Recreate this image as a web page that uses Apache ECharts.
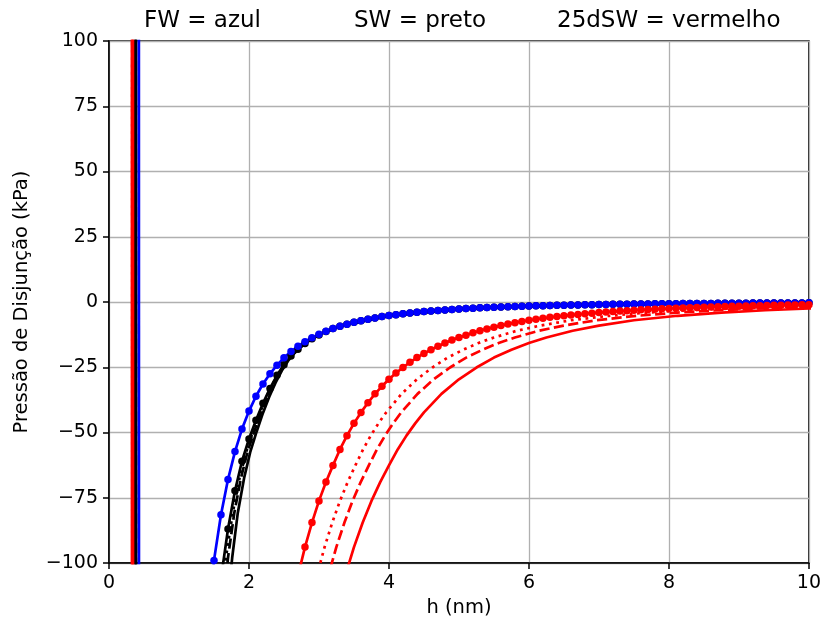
<!DOCTYPE html>
<html style="height: 100%">
<head>
    <meta charset="utf-8">
    <title>Pressão de Disjunção</title>
    <script type="text/javascript" src="https://cdn.jsdelivr.net/npm/echarts@6/dist/echarts.min.js"></script>
</head>
<body style="height: 100%; margin: 0">
<div id="container" style="width: 824px; height: 624px"></div>
<script type="text/javascript">
    // h (nm) grid used by the marker curves
    var hGrid = [1.4,
        1.5, 1.6, 1.7, 1.8, 1.9, 2.0, 2.1, 2.2, 2.3, 2.4,
        2.5, 2.6, 2.7, 2.8, 2.9, 3.0, 3.1, 3.2, 3.3, 3.4,
        3.5, 3.6, 3.7, 3.8, 3.9, 4.0, 4.1, 4.2, 4.3, 4.4,
        4.5, 4.6, 4.7, 4.8, 4.9, 5.0, 5.1, 5.2, 5.3, 5.4,
        5.5, 5.6, 5.7, 5.8, 5.9, 6.0, 6.1, 6.2, 6.3, 6.4,
        6.5, 6.6, 6.7, 6.8, 6.9, 7.0, 7.1, 7.2, 7.3, 7.4,
        7.5, 7.6, 7.7, 7.8, 7.9, 8.0, 8.1, 8.2, 8.3, 8.4,
        8.5, 8.6, 8.7, 8.8, 8.9, 9.0, 9.1, 9.2, 9.3, 9.4,
        9.5, 9.6, 9.7, 9.8, 9.9, 10.0];

    // FW (azul), pontos - starts at h = 1.4
    var blueP = [-121.7,
        -99.0, -81.5, -68.0, -57.3, -48.7, -41.8, -36.1, -31.4, -27.5, -24.2,
        -21.4, -19.0, -17.0, -15.2, -13.7, -12.4, -11.2, -10.2, -9.3, -8.5,
        -7.8, -7.2, -6.6, -6.1, -5.6, -5.2, -4.85, -4.51, -4.2, -3.92,
        -3.67, -3.43, -3.22, -3.02, -2.84, -2.67, -2.52, -2.38, -2.24, -2.12,
        -2.01, -1.9, -1.8, -1.71, -1.63, -1.55, -1.47, -1.4, -1.34, -1.27,
        -1.22, -1.16, -1.11, -1.06, -1.02, -0.97, -0.93, -0.89, -0.86, -0.82,
        -0.79, -0.76, -0.73, -0.7, -0.68, -0.65, -0.63, -0.61, -0.58, -0.56,
        -0.54, -0.53, -0.51, -0.49, -0.47, -0.46, -0.44, -0.43, -0.42, -0.4,
        -0.39, -0.38, -0.37, -0.35, -0.34, -0.33];

    // SW (preto), pontos - starts at h = 1.6 (same as FW from 3.6 on)
    var blackNearP = [-106, -87.0, -72.3, -61.0, -52.5, -45.3, -38.8, -33.1, -28.1, -24.0,
        -20.7, -18.1, -15.9, -14.1, -12.6, -11.3, -10.2, -9.3, -8.5, -7.8];

    // SW (preto), linhas
    var blackVarP = [-125, -98.0, -80.8, -67.5, -57.3, -49.6, -42.5, -36.3, -30.9, -26.3, -22.5,
        -19.5, -17.1, -15.1, -12.0, -8.95, -5.22, -2.67, -1.55, -0.97, -0.65, -0.46, -0.33];
    var blackDotH = [1.57, 1.67, 1.768, 1.865, 1.962, 2.058, 2.155, 2.253, 2.35, 2.448, 2.546,
        2.644, 2.742, 2.84, 3.04, 3.34, 4, 5, 6, 7, 8, 9, 10];
    var blackDashH = [1.60, 1.70, 1.79, 1.885, 1.98, 2.075, 2.17, 2.265, 2.36, 2.455, 2.55,
        2.647, 2.744, 2.842, 3.04, 3.34, 4, 5, 6, 7, 8, 9, 10];
    var blackSolidH = [1.66, 1.76, 1.84, 1.93, 2.02, 2.11, 2.20, 2.29, 2.38, 2.47, 2.56,
        2.653, 2.748, 2.844, 3.04, 3.34, 4, 5, 6, 7, 8, 9, 10];

    // 25dSW (vermelho), pontos - starts at h = 2.6
    var redP = [-117.8, -104.9, -93.9, -84.5, -76.2, -69.0, -62.6, -56.5, -51.2, -46.5,
        -42.3, -38.6, -35.2, -32.3, -29.6, -27.2, -25.1, -23.1, -21.3, -19.7,
        -18.3, -16.95, -15.7, -14.6, -13.6, -12.7, -11.8, -11.0, -10.3, -9.65,
        -9.03, -8.46, -7.93, -7.44, -6.99, -6.6, -6.24, -5.89, -5.58, -5.28,
        -5.01, -4.75, -4.5, -4.28, -4.06, -3.86, -3.67, -3.49, -3.32, -3.16,
        -3.01, -2.87, -2.74, -2.61, -2.49, -2.38, -2.27, -2.17, -2.08, -1.98,
        -1.9, -1.82, -1.74, -1.66, -1.59, -1.52, -1.46, -1.4, -1.34, -1.29,
        -1.23, -1.18, -1.13, -1.09, -1.05];

    // 25dSW (vermelho), linhas
    var redVarP = [-104.9, -93.9, -84.5, -76.2, -69.0, -62.6, -56.5, -51.2, -46.5, -42.3,
        -35.2, -29.6, -25.1, -21.3, -18.3, -15.7, -13.6, -11.0, -9.03, -6.99,
        -5.28, -4.06, -3.16, -2.49, -1.98, -1.59, -1.29];
    var redDotH = [2.97, 3.08, 3.19, 3.30, 3.41, 3.52, 3.63, 3.74, 3.85, 3.96,
        4.18, 4.40, 4.62, 4.84, 5.06, 5.28, 5.50, 5.83, 6.16, 6.60,
        7.15, 7.70, 8.25, 8.80, 9.35, 9.90, 10.45];
    var redDashH = [3.132, 3.248, 3.364, 3.48, 3.596, 3.712, 3.828, 3.944, 4.06, 4.176,
        4.408, 4.64, 4.872, 5.104, 5.336, 5.568, 5.80, 6.148, 6.496, 6.96,
        7.54, 8.12, 8.70, 9.28, 9.86, 10.44, 11.02];
    var redSolidH = [3.375, 3.5, 3.625, 3.75, 3.875, 4.0, 4.125, 4.25, 4.375, 4.5,
        4.75, 5.0, 5.25, 5.5, 5.75, 6.0, 6.25, 6.625, 7.0, 7.5,
        8.125, 8.75, 9.375, 10.0, 10.625, 11.25, 11.875];

    // steep repulsive branch (h where the curve drops through the whole range)
    var wallFW = 0.425;
    var wallSW = [0.37, 0.375, 0.38, 0.385];
    var wallRed = [0.325, 0.33, 0.335, 0.34];

    var blackP = blackNearP.concat(blueP.slice(22));

    function pts(wall, h, p) {
        var d = [[wall, 400], [wall + 0.005, -400]];
        for (var i = 0; i < p.length; i++) d.push([h[i], p[i]]);
        return d;
    }

    var LW = 2.7;
    var DOT = [2.8, 4.6], DASH = [10.2, 4.4];

    function line(data, color, type, marks) {
        return {
            type: 'line',
            data: data,
            clip: true,
            silent: true,
            symbol: marks ? 'circle' : 'none',
            symbolSize: 7.5,
            showSymbol: !!marks,
            itemStyle: {color: color},
            lineStyle: {color: color, width: LW, type: type || 'solid'},
            z: 2
        };
    }

    var minus = function (v) { return v < 0 ? '\u2212' + (-v) : '' + v; };

    var dom = document.getElementById("container");
    var myChart = echarts.init(dom);
    var titleStyle = {fontSize: 23, fontWeight: 'normal', color: '#000', fontFamily: 'DejaVu Sans'};

    var option = {
        animation: false,
        textStyle: {fontFamily: 'DejaVu Sans'},
        title: [
            {text: 'FW = azul', left: 139, top: 5, textStyle: titleStyle},
            {text: 'SW = preto', left: 349, top: 5, textStyle: titleStyle},
            {text: '25dSW = vermelho', left: 552, top: 5, textStyle: titleStyle}
        ],
        grid: {left: 109, right: 13, top: 41, bottom: 61, show: true, borderColor: '#000', borderWidth: 1.5},
        xAxis: {
            type: 'value', min: 0, max: 10, interval: 2,
            name: 'h (nm)', nameLocation: 'middle', nameGap: 35,
            nameTextStyle: {fontSize: 19.5, color: '#000'},
            axisLine: {show: true, onZero: false, lineStyle: {color: '#000', width: 1.5}},
            axisTick: {show: true, length: 6, lineStyle: {color: '#000', width: 1.5}},
            axisLabel: {fontSize: 19, color: '#000', margin: 11},
            splitLine: {show: true, lineStyle: {color: '#b0b0b0', width: 1.3}}
        },
        yAxis: {
            type: 'value', min: -100, max: 100, interval: 25,
            name: 'Pressão de Disjunção (kPa)', nameLocation: 'middle', nameGap: 77,
            nameTextStyle: {fontSize: 19.5, color: '#000'},
            axisLine: {show: true, onZero: false, lineStyle: {color: '#000', width: 1.5}},
            axisTick: {show: true, length: 6, lineStyle: {color: '#000', width: 1.5}},
            axisLabel: {fontSize: 19, color: '#000', margin: 11, formatter: minus},
            splitLine: {show: true, lineStyle: {color: '#b0b0b0', width: 1.3}}
        },
        series: [
            line(pts(wallSW[3], blackSolidH, blackVarP), '#000', 'solid'),
            line(pts(wallSW[2], blackDashH, blackVarP), '#000', DASH),
            line(pts(wallSW[1], blackDotH, blackVarP), '#000', DOT),
            line(pts(wallSW[0], hGrid.slice(2), blackP), '#000', 'solid', true),
            line(pts(wallFW, hGrid, blueP), '#0000ff', 'solid', true),
            line(pts(wallRed[3], redSolidH, redVarP), '#ff0000', 'solid'),
            line(pts(wallRed[2], redDashH, redVarP), '#ff0000', DASH),
            line(pts(wallRed[1], redDotH, redVarP), '#ff0000', DOT),
            line(pts(wallRed[0], hGrid.slice(12), redP), '#ff0000', 'solid', true)
        ]
    };

    if (option && typeof option === "object") {
        myChart.setOption(option, true);
    }
</script>
</body>
</html>
